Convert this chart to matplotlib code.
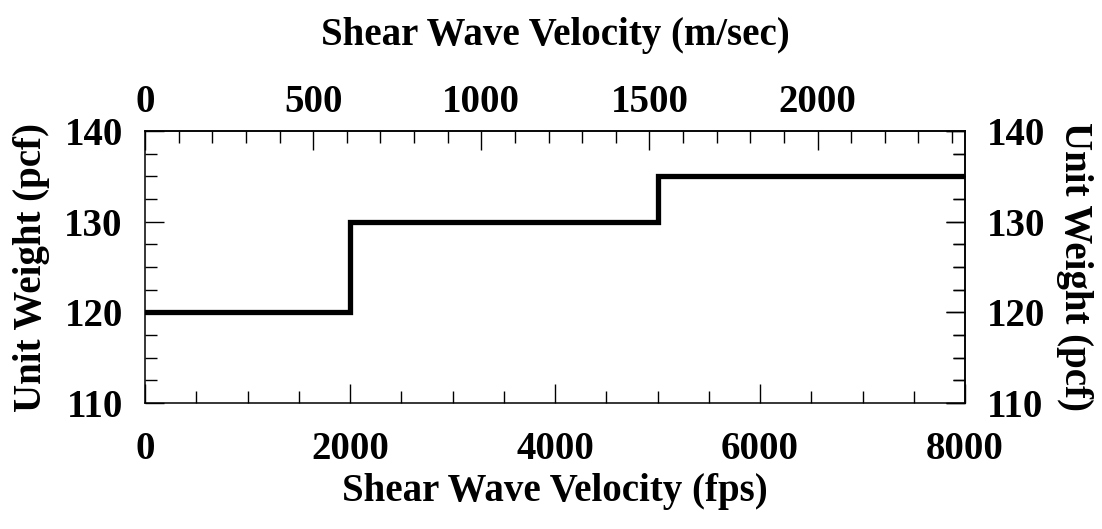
import matplotlib.pyplot as plt
from matplotlib.ticker import MultipleLocator

plt.rcParams['font.family'] = ['Liberation Serif', 'DejaVu Serif']
plt.rcParams['font.weight'] = 'bold'

FT_PER_M = 3.28084

# step profile: shear wave velocity (fps) vs unit weight (pcf)
vs_fps = [0, 2000, 2000, 5000, 5000, 8000]
unit_weight = [120, 120, 130, 130, 135, 135]

fs = 28

fig = plt.figure(figsize=(11.02, 5.29), dpi=100)
ax = fig.add_axes([145 / 1102, 1 - 403 / 529, 820 / 1102, 272 / 529])

ax.plot(vs_fps, unit_weight, color='black', lw=3.8,
        solid_capstyle='round', solid_joinstyle='miter')

ax.set_xlim(0, 8000)
ax.set_ylim(110, 140)
ax.xaxis.set_major_locator(MultipleLocator(2000))
ax.xaxis.set_minor_locator(MultipleLocator(500))
ax.yaxis.set_major_locator(MultipleLocator(10))
ax.yaxis.set_minor_locator(MultipleLocator(2.5))

for s in ax.spines.values():
    s.set_linewidth(1.1)

ax.tick_params(which='both', direction='in', width=1.0, labelsize=fs,
               right=True, top=False)
ax.tick_params(which='major', length=13.5)
ax.tick_params(which='minor', length=8.5)
ax.tick_params(axis='x', pad=20)
ax.tick_params(axis='y', pad=16)

ax.set_xlabel('Shear Wave Velocity (fps)', fontsize=fs, fontweight='bold', labelpad=4)
ax.set_ylabel('Unit Weight (pcf)', fontsize=fs, fontweight='bold', labelpad=10)

# metric velocity scale along the top
top = ax.secondary_xaxis('top', functions=(lambda x: x / FT_PER_M,
                                           lambda x: x * FT_PER_M))
top.xaxis.set_major_locator(MultipleLocator(500))
top.xaxis.set_minor_locator(MultipleLocator(100))
top.tick_params(which='both', direction='in', width=1.0, labelsize=fs, pad=7)
top.tick_params(which='major', length=13.5)
top.tick_params(which='minor', length=8.5)
top.set_xlabel('Shear Wave Velocity (m/sec)', fontsize=fs, fontweight='bold', labelpad=28)
top.spines['top'].set_linewidth(1.1)

right = ax.secondary_yaxis('right')
right.yaxis.set_major_locator(MultipleLocator(10))
right.yaxis.set_minor_locator(MultipleLocator(2.5))
right.tick_params(which='both', direction='in', width=1.0, labelsize=fs, pad=16)
right.tick_params(which='major', length=13.5)
right.tick_params(which='minor', length=8.5)
right.set_ylabel('Unit Weight (pcf)', fontsize=fs, fontweight='bold',
                 rotation=270, labelpad=34)
right.spines['right'].set_linewidth(1.1)

fig.savefig('out.png', dpi=100)
